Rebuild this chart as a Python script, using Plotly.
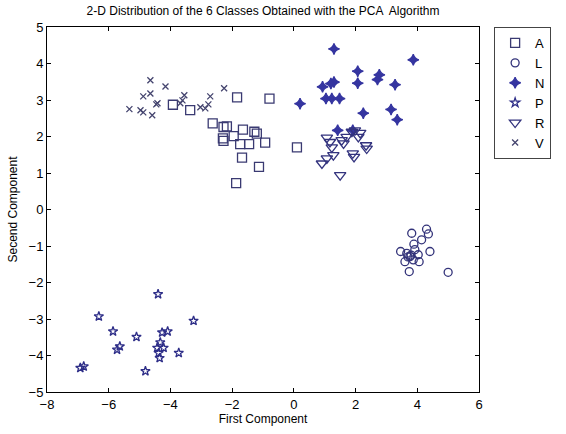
import plotly.graph_objects as go

# ---- data ----
A_x = [-3.92, -3.36, -1.84, -0.79, -2.63, -2.28, -2.17, -1.65, -1.28, -1.20, -2.28, -1.95, -1.74, -1.45, -0.93, -1.68, -1.13, -1.87, 0.10, -2.30]
A_y = [2.87, 2.72, 3.07, 3.04, 2.36, 2.26, 2.28, 2.19, 2.13, 2.08, 1.88, 2.01, 1.79, 1.79, 1.83, 1.42, 1.17, 0.72, 1.70, 1.95]

L_x = [3.82, 4.30, 4.36, 4.14, 3.89, 3.46, 3.66, 3.76, 4.03, 3.60, 3.87, 4.06, 4.41, 3.74, 5.00, 3.70, 3.80, 3.92]
L_y = [-0.65, -0.54, -0.67, -0.83, -0.95, -1.15, -1.20, -1.29, -1.24, -1.43, -1.38, -1.43, -1.15, -1.70, -1.72, -1.30, -1.25, -1.10]

N_x = [1.30, 3.87, 2.07, 2.77, 2.71, 2.07, 3.28, 1.30, 1.20, 0.93, 1.04, 1.23, 1.48, 0.20, 2.25, 3.15, 3.35, 1.42, 1.91]
N_y = [4.40, 4.10, 3.79, 3.69, 3.56, 3.46, 3.42, 3.49, 3.45, 3.36, 3.04, 3.04, 3.04, 2.90, 2.64, 2.74, 2.46, 2.17, 2.17]

P_x = [-4.40, -6.32, -3.25, -5.86, -5.10, -4.27, -4.09, -5.64, -5.73, -4.33, -4.43, -4.22, -4.38, -4.35, -3.73, -6.81, -6.92, -4.81]
P_y = [-2.32, -2.93, -3.05, -3.34, -3.49, -3.37, -3.34, -3.75, -3.84, -3.64, -3.79, -3.79, -3.93, -4.07, -3.93, -4.30, -4.34, -4.43]

R_x = [1.07, 1.17, 1.23, 1.28, 1.07, 0.91, 1.50, 1.55, 1.71, 1.88, 1.98, 2.15, 2.09, 1.61, 1.91, 1.95, 2.34, 2.36]
R_y = [1.97, 1.85, 1.70, 1.49, 1.40, 1.26, 0.94, 1.90, 1.99, 2.13, 2.17, 2.10, 1.99, 1.81, 1.54, 1.44, 1.76, 1.67]

V_x = [-4.65, -4.16, -4.88, -4.65, -4.42, -4.46, -5.33, -4.97, -4.88, -4.59, -3.68, -3.55, -3.61, -3.03, -2.87, -2.77, -2.71, -2.26]
V_y = [3.54, 3.37, 3.10, 3.18, 2.91, 2.88, 2.75, 2.72, 2.66, 2.58, 2.91, 3.13, 2.99, 2.80, 2.77, 2.88, 3.10, 3.32]

classes = ["A", "L", "N", "P", "R", "V"]
xs = [A_x, L_x, N_x, P_x, R_x, V_x]
ys = [A_y, L_y, N_y, P_y, R_y, V_y]

x_ticks = [-8, -6, -4, -2, 0, 2, 4, 6]
y_ticks = [-5, -4, -3, -2, -1, 0, 1, 2, 3, 4, 5]

# ---- style ----
symbols = ["square-open", "circle-open", "star-diamond", "star-open", "triangle-down-open", "x-thin-open"]
sizes = [9, 8, 8, 7, 10, 6]
colors = ["#3a3a72", "#33337a", "#3535a0", "#2e2e88", "#33337e", "#44446e"]

FONT = "Liberation Sans, Arial, sans-serif"

fig = go.Figure()
for name, x, y, sym, sz, col in zip(classes, xs, ys, symbols, sizes, colors):
    fig.add_trace(go.Scatter(
        x=x, y=y, mode="markers", name=name,
        marker=dict(symbol=sym, size=sz, color=col, line=dict(color=col, width=1.3)),
    ))

axis_common = dict(
    showgrid=False, zeroline=False, showline=True, linecolor="black", linewidth=1,
    mirror="ticks", ticks="inside", ticklen=4, tickcolor="black",
    tickfont=dict(family=FONT, size=13, color="black"),
)

fig.update_layout(
    width=566, height=434,
    margin=dict(l=47, r=87, t=27, b=42, autoexpand=False),
    paper_bgcolor="white", plot_bgcolor="white",
    title=dict(text="2-D Distribution of the 6 Classes Obtained with the PCA  Algorithm",
               x=0.5, xref="paper", xanchor="center", y=0.975, yref="container", yanchor="middle",
               font=dict(family=FONT, size=12, color="black")),
    xaxis=dict(range=[-8, 6], tickvals=x_ticks,
               title=dict(text="First Component", standoff=3,
                          font=dict(family=FONT, size=12, color="black")),
               **axis_common),
    yaxis=dict(range=[-5, 5], tickvals=y_ticks,
               title=dict(text="Secend Component", standoff=8,
                          font=dict(family=FONT, size=12, color="black")),
               **axis_common),
    legend=dict(x=1.035, xanchor="left", y=1.0, yanchor="top",
                bordercolor="#444444", borderwidth=1, bgcolor="white",
                font=dict(family=FONT, size=13, color="black"),
                itemwidth=30, tracegroupgap=0),
    showlegend=True,
)

fig.write_html("out.html")
